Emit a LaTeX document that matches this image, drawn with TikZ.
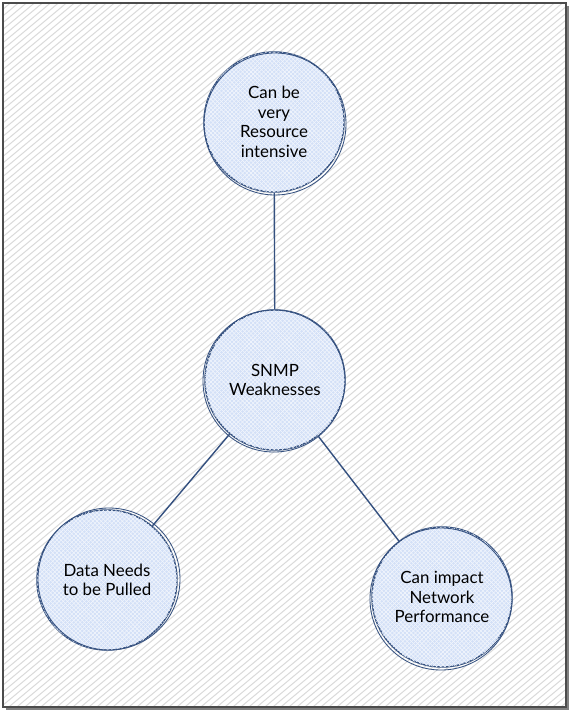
\documentclass[tikz,border=0pt]{standalone}
\usepackage{fontspec}
\setmainfont{Lato}
\usetikzlibrary{patterns}
\definecolor{hatchgray}{HTML}{DADADA}
\definecolor{bubblefill}{HTML}{D3E0F7}
\definecolor{bubbleline}{HTML}{34507F}
\tikzset{
  bubble/.style={circle, draw=bubbleline, line width=1pt, fill=bubblefill,
    postaction={pattern=north east lines, pattern color=white!70!bubblefill},
    postaction={pattern=north west lines, pattern color=white!70!bubblefill},
    minimum size=3.5cm, inner sep=0pt, align=center,
    font=\fontsize{12}{14}\selectfont},
  link/.style={draw=bubbleline, line width=1pt},
}
\begin{document}
\begin{tikzpicture}[x=0.025cm,y=-0.025cm]
  \useasboundingbox (0,0) rectangle (570,711);
  \fill[white] (0,0) rectangle (570,711);
  % hachure background
  \begin{scope}
    \clip (3,3) rectangle (566,707);
    \foreach \i in {-900,-892,...,570}
      \draw[hatchgray, line width=0.7pt] (\i,711) -- ++(850,-711);
  \end{scope}
  \draw[gray!60!black, line width=1pt] (3,3) rectangle (566,707);
  \draw[gray, line width=1.2pt] (568,6) -- (568,709) -- (6,709);

  \node[bubble] (resource) at (274,122) {Can be\\very\\Resource\\intensive};
  \node[bubble] (weak) at (275,380) {SNMP\\Weaknesses};
  \node[bubble] (pulled) at (107,580) {Data Needs\\to be Pulled};
  \node[bubble] (perf) at (442,597) {Can impact\\Network\\Performance};

  % second sketchy stroke
  \foreach \n/\dx/\dy in {resource/1/2, weak/-1/1, pulled/2/-1, perf/-1/2}
    \draw[bubbleline, line width=0.6pt] ([shift={(\dx,\dy)}]\n.center) circle[radius=71];

  \draw[link] (resource) -- (weak);
  \draw[link] (weak) -- (pulled);
  \draw[link] (weak) -- (perf);
\end{tikzpicture}
\end{document}
